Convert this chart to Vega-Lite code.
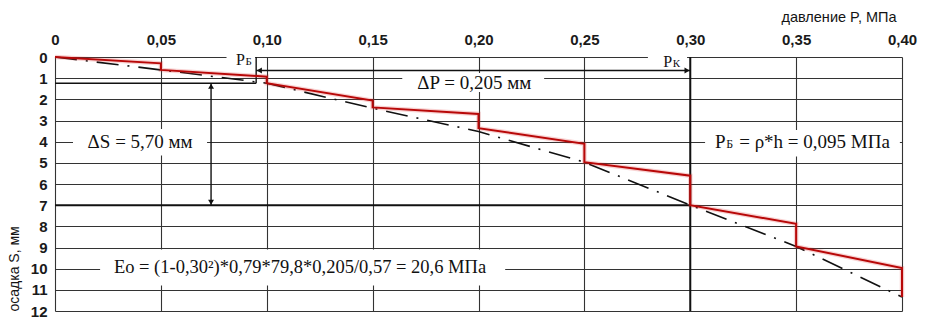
{
  "$schema": "https://vega.github.io/schema/vega-lite/v6.json",
  "width": 847,
  "height": 254,
  "autosize": {"type": "none"},
  "padding": {"left": 55, "top": 57, "right": 24, "bottom": 13},
  "background": "white",
  "config": {
    "view": {"stroke": null},
    "axis": {
      "grid": true,
      "gridColor": "#333333",
      "gridWidth": 1.1,
      "gridOpacity": 1,
      "domain": false,
      "ticks": false,
      "labelFont": "Liberation Sans",
      "labelFontSize": 15,
      "labelFontWeight": "bold",
      "labelColor": "#1a1a1a",
      "titleFont": "Liberation Sans",
      "titleFontSize": 14,
      "titleFontWeight": "normal",
      "titleColor": "#141414"
    }
  },
  "datasets": {
    "red": [
      {"i": 0, "p": 0, "s": 0},
      {"i": 1, "p": 0.05, "s": 0.30},
      {"i": 2, "p": 0.05, "s": 0.61},
      {"i": 3, "p": 0.10, "s": 0.93},
      {"i": 4, "p": 0.10, "s": 1.24},
      {"i": 5, "p": 0.15, "s": 2.06},
      {"i": 6, "p": 0.15, "s": 2.38},
      {"i": 7, "p": 0.20, "s": 2.69},
      {"i": 8, "p": 0.20, "s": 3.36},
      {"i": 9, "p": 0.25, "s": 4.10},
      {"i": 10, "p": 0.25, "s": 4.97},
      {"i": 11, "p": 0.30, "s": 5.61},
      {"i": 12, "p": 0.30, "s": 7.00},
      {"i": 13, "p": 0.35, "s": 7.88},
      {"i": 14, "p": 0.35, "s": 8.95},
      {"i": 15, "p": 0.40, "s": 9.97},
      {"i": 16, "p": 0.40, "s": 11.34}
    ],
    "trend": [
      {"i": 0, "p": 0, "s": 0},
      {"i": 1, "p": 0.05, "s": 0.61},
      {"i": 2, "p": 0.10, "s": 1.24},
      {"i": 3, "p": 0.15, "s": 2.42},
      {"i": 4, "p": 0.20, "s": 3.52},
      {"i": 5, "p": 0.25, "s": 4.97},
      {"i": 6, "p": 0.30, "s": 7.00},
      {"i": 7, "p": 0.35, "s": 8.95},
      {"i": 8, "p": 0.40, "s": 11.34}
    ],
    "masks": [
      {"p": 0.0085, "p2": 0.0718, "s": 3.4, "s2": 4.65},
      {"p": 0.307, "p2": 0.399, "s": 3.45, "s2": 4.7},
      {"p": 0.0213, "p2": 0.2126, "s": 9.1, "s2": 10.8},
      {"p": 0.164, "p2": 0.231, "s": 0.76, "s2": 1.65},
      {"p": 0.081, "p2": 0.0945, "s": -0.25, "s2": 0.45},
      {"p": 0.280, "p2": 0.2985, "s": -0.25, "s2": 0.5}
    ],
    "thinRules": [
      {"p": 0, "p2": 0.095, "s": 1.24, "s2": 1.24},
      {"p": 0.095, "p2": 0.095, "s": 0, "s2": 1.24},
      {"p": 0.095, "p2": 0.30, "s": 0.64, "s2": 0.64},
      {"p": 0.0737, "p2": 0.0737, "s": 1.24, "s2": 7}
    ],
    "thickRules": [
      {"p": 0, "p2": 0.30, "s": 7, "s2": 7},
      {"p": 0.30, "p2": 0.30, "s": 0, "s2": 12}
    ],
    "heads": [
      {"p": 0.0965, "s": 0.64, "dir": "left"},
      {"p": 0.2985, "s": 0.64, "dir": "right"},
      {"p": 0.0737, "s": 1.38, "dir": "up"},
      {"p": 0.0737, "s": 6.86, "dir": "down"}
    ],
    "bigCenter": [
      {"p": 0.198, "s": 1.51, "t": "ΔP = 0,205 мм"},
      {"p": 0.0402, "s": 4.3, "t": "ΔS = 5,70 мм"}
    ],
    "eo": [
      {"p": 0.1157, "s": 10.2, "t": "Eo = (1-0,30²)*0,79*79,8*0,205/0,57 = 20,6 МПа"}
    ],
    "bigRight": [
      {"p": 0.3167, "s": 4.3, "t": "P"}
    ],
    "smallLeft": [
      {"p": 0.3170, "s": 4.3, "t": "Б"}
    ],
    "bigLeft": [
      {"p": 0.3231, "s": 4.3, "t": "= ρ*h = 0,095 МПа"}
    ],
    "medRight": [
      {"p": 0.0897, "s": 0.38, "t": "P"},
      {"p": 0.2914, "s": 0.47, "t": "P"}
    ],
    "tinyLeft": [
      {"p": 0.0900, "s": 0.38, "t": "Б"},
      {"p": 0.2917, "s": 0.47, "t": "К"}
    ]
  },
  "encoding": {
    "x": {
      "field": "p",
      "type": "quantitative",
      "scale": {"domain": [0, 0.4], "nice": false, "zero": false},
      "axis": {
        "orient": "top",
        "values": [0, 0.05, 0.1, 0.15, 0.2, 0.25, 0.3, 0.35, 0.4],
        "labelExpr": "datum.value == 0 ? '0' : replace(format(datum.value, '.2f'), '.', ',')",
        "labelPadding": 10,
        "labelFlush": false,
        "labelOverlap": false,
        "title": "давление P, МПа",
        "titleAnchor": "end",
        "titleAlign": "right",
        "titleX": 841,
        "titleFontSize": 14.5,
        "titlePadding": 8
      }
    },
    "y": {
      "field": "s",
      "type": "quantitative",
      "scale": {"domain": [0, 12], "nice": false, "zero": false, "reverse": true},
      "axis": {
        "values": [0, 1, 2, 3, 4, 5, 6, 7, 8, 9, 10, 11, 12],
        "labelPadding": 8,
        "labelFlush": false,
        "labelOverlap": false,
        "title": "осадка S, мм",
        "titleAnchor": "end",
        "titleAlign": "left",
        "titlePadding": 9
      }
    }
  },
  "layer": [
    {
      "data": {"name": "masks"},
      "mark": {"type": "rect", "fill": "white", "stroke": null},
      "encoding": {"x2": {"field": "p2"}, "y2": {"field": "s2"}}
    },
    {
      "data": {"name": "thinRules"},
      "mark": {"type": "rule", "color": "#111", "strokeWidth": 1.4},
      "encoding": {"x2": {"field": "p2"}, "y2": {"field": "s2"}}
    },
    {
      "data": {"name": "thickRules"},
      "mark": {"type": "rule", "color": "#111", "strokeWidth": 2},
      "encoding": {"x2": {"field": "p2"}, "y2": {"field": "s2"}}
    },
    {
      "data": {"name": "heads"},
      "mark": {"type": "point", "filled": true, "color": "#111", "size": 35, "opacity": 1},
      "encoding": {
        "shape": {
          "field": "dir",
          "type": "nominal",
          "scale": {"domain": ["left", "right", "up", "down"], "range": ["triangle-left", "triangle-right", "triangle-up", "triangle-down"]},
          "legend": null
        }
      }
    },
    {
      "data": {"name": "trend"},
      "mark": {"type": "line", "color": "#111", "strokeWidth": 1.6, "strokeDash": [22, 9, 2, 9]},
      "encoding": {"order": {"field": "i"}}
    },
    {
      "data": {"name": "red"},
      "mark": {"type": "line", "color": "#e03030", "strokeWidth": 4.5, "opacity": 0.22},
      "encoding": {"order": {"field": "i"}}
    },
    {
      "data": {"name": "red"},
      "mark": {"type": "line", "color": "#b80808", "strokeWidth": 2},
      "encoding": {"order": {"field": "i"}}
    },
    {
      "data": {"name": "bigCenter"},
      "mark": {"type": "text", "font": "Liberation Serif", "fontSize": 19, "align": "center", "baseline": "alphabetic", "color": "#111"},
      "encoding": {"text": {"field": "t"}}
    },
    {
      "data": {"name": "eo"},
      "mark": {"type": "text", "font": "Liberation Serif", "fontSize": 18.5, "align": "center", "baseline": "alphabetic", "color": "#111"},
      "encoding": {"text": {"field": "t"}}
    },
    {
      "data": {"name": "bigRight"},
      "mark": {"type": "text", "font": "Liberation Serif", "fontSize": 19, "align": "right", "baseline": "alphabetic", "color": "#111"},
      "encoding": {"text": {"field": "t"}}
    },
    {
      "data": {"name": "smallLeft"},
      "mark": {"type": "text", "font": "Liberation Serif", "fontSize": 12, "align": "left", "baseline": "alphabetic", "color": "#111"},
      "encoding": {"text": {"field": "t"}}
    },
    {
      "data": {"name": "bigLeft"},
      "mark": {"type": "text", "font": "Liberation Serif", "fontSize": 19, "align": "left", "baseline": "alphabetic", "color": "#111"},
      "encoding": {"text": {"field": "t"}}
    },
    {
      "data": {"name": "medRight"},
      "mark": {"type": "text", "font": "Liberation Serif", "fontSize": 16, "align": "right", "baseline": "alphabetic", "color": "#111"},
      "encoding": {"text": {"field": "t"}}
    },
    {
      "data": {"name": "tinyLeft"},
      "mark": {"type": "text", "font": "Liberation Serif", "fontSize": 11, "align": "left", "baseline": "alphabetic", "color": "#111"},
      "encoding": {"text": {"field": "t"}}
    }
  ]
}
